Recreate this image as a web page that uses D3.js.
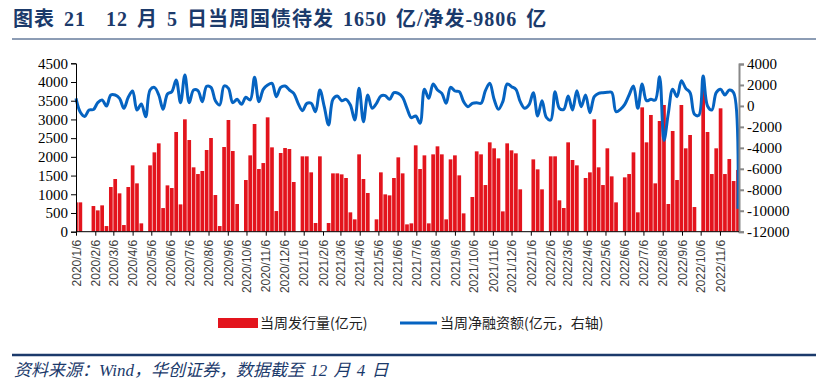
<!DOCTYPE html>
<html><head><meta charset="utf-8">
<script src="https://cdn.jsdelivr.net/npm/d3@7"></script>
<style>
html,body{margin:0;padding:0;background:#fff;}
svg{display:block;}
</style></head>
<body>
<svg id="c" width="816" height="390"></svg>
<script>
// ---- data ----
const startDate = "2020-01-06";
const weekCount = 153;
const issuance = [784,784,0,0,686,570,704,151,1194,1408,1025,178,1194,1773,1292,223,0,1773,2120,2361,632,1238,1167,2664,730,3003,2450,1720,1541,1622,2183,2504,980,151,2263,2985,2156,740,0,1381,2040,2878,1675,1835,3056,2254,552,2103,2236,2210,1328,0,2014,2014,1586,232,2014,0,232,1559,1559,1532,1435,517,330,2067,1408,1034,0,330,1586,998,971,1435,1987,1559,196,223,2308,1675,2040,223,2067,2281,2067,330,1933,2040,1506,490,0,927,2147,2067,1247,2388,2228,1960,543,2361,2174,2094,1132,0,0,1933,1666,1132,0,2014,2014,838,633,2388,1916,1773,0,1435,1586,3003,1720,1247,2228,1479,784,0,1452,1541,2120,517,3323,2388,3119,1292,2958,3386,740,2691,1381,3386,2228,2584,659,0,3900,2664,1541,2228,3297,1541,1942,1354,1650];
const netFinancing = [725,-600,-1000,-388,-350,311,566,-7,1043,1043,725,-229,820,1424,-388,184,-1024,1520,1774,1043,-325,1138,1361,2474,311,2951,311,1520,1456,407,1870,1774,502,89,1901,1679,311,629,152,820,566,2728,407,1583,1997,2156,884,1774,1901,1520,1202,248,-452,248,248,-547,1520,-70,-1819,629,947,500,629,89,-1342,1679,-1501,1043,-229,248,947,979,629,1265,1202,820,-229,-1120,-961,-1660,1583,725,2092,1520,1202,248,1774,1424,1361,407,-70,248,311,248,1456,2156,629,-325,407,2092,1838,1583,407,-229,89,1265,-961,502,-1088,-1342,1361,-229,-325,947,-388,1456,-70,1043,-643,884,1202,1265,1297,1297,-547,-325,152,1043,1901,-229,2092,502,629,566,2792,-3300,-706,1583,884,2410,1679,1265,-800,-900,2855,-7,-388,1265,1583,1043,1520,1265,-9806];
const tickLabels = ["2020/1/6","2020/2/6","2020/3/6","2020/4/6","2020/5/6","2020/6/6","2020/7/6","2020/8/6","2020/9/6","2020/10/6","2020/11/6","2020/12/6","2021/1/6","2021/2/6","2021/3/6","2021/4/6","2021/5/6","2021/6/6","2021/7/6","2021/8/6","2021/9/6","2021/10/6","2021/11/6","2021/12/6","2022/1/6","2022/2/6","2022/3/6","2022/4/6","2022/5/6","2022/6/6","2022/7/6","2022/8/6","2022/9/6","2022/10/6","2022/11/6"];
const leftTicks = [0,500,1000,1500,2000,2500,3000,3500,4000,4500];
const rightTicks = [-12000,-10000,-8000,-6000,-4000,-2000,0,2000,4000];
const seriesNames = ["当周发行量(亿元)","当周净融资额(亿元，右轴)"];

// ---- layout ----
const parse = d3.timeParse("%Y-%m-%d");
const parseTick = d3.timeParse("%Y/%m/%d");
const d0 = parse(startDate);
const dates = d3.range(weekCount).map(i => d3.timeDay.offset(d0, 7*i));
const L = 76, R = 739, B = 231.7;
const svg = d3.select("#c");
const navy = "#1b3a6b";

const x = d3.scaleTime().domain([dates[0], dates[dates.length-1]]).range([L, 738]);
const yL = d3.scaleLinear().domain([0,4500]).range([B, 63.3]);
const yR = d3.scaleLinear().domain([-12000,4000]).range([B, 64]);

// title
const title = svg.append("text").attr("y", 26).attr("fill", navy)
  .attr("font-weight", "bold").attr("font-size", 20).attr("word-spacing", 3).attr("letter-spacing", 1)
  .attr("font-family", "'Liberation Serif','Noto Sans CJK SC',serif");
title.append("tspan").attr("x", 13).text("图表");
title.append("tspan").attr("x", 64).text("21");
title.append("tspan").attr("x", 106).text("12 月 5 日当周国债待发 1650 亿/净发-9806 亿");
svg.append("line").attr("x1",12).attr("x2",816).attr("y1",39).attr("y2",39)
  .attr("stroke", navy).attr("stroke-width",1);

// clip
svg.append("clipPath").attr("id","pc").append("rect")
  .attr("x",L).attr("y",40).attr("width",R-L).attr("height",B-40);

const bw = 3.7;
svg.append("g").attr("clip-path","url(#pc)").selectAll("rect").data(issuance).join("rect")
  .attr("x",(d,i)=>x(dates[i]) - bw/2).attr("width",bw)
  .attr("y",d=>yL(d)).attr("height",d=>B - yL(d))
  .attr("fill","#e3141d");

// line
const line = d3.line().x((d,i)=>x(dates[i])).y(d=>yR(d)).curve(d3.curveCatmullRom.alpha(0.5));
svg.append("path").datum(netFinancing).attr("d",line)
  .attr("fill","none").attr("stroke","#0563c1").attr("stroke-width",3);

// axes
const gl = svg.append("g").attr("transform",`translate(${L},0)`)
  .call(d3.axisLeft(yL).tickValues(leftTicks).tickSize(5).tickPadding(3).tickFormat(d=>String(d)));
gl.select(".domain").attr("stroke","#000");
gl.selectAll(".tick line").attr("stroke","#000");
gl.selectAll("text").attr("font-family","'Liberation Serif',serif").attr("font-size",15).attr("fill","#000");

const gr = svg.append("g").attr("transform",`translate(${R},0)`)
  .call(d3.axisRight(yR).tickValues(rightTicks).tickSize(5).tickPadding(3).tickFormat(d=>String(d)));
gr.select(".domain").attr("stroke","#888").attr("stroke-width",2);
gr.selectAll(".tick line").attr("stroke","#888").attr("stroke-width",2);
gr.selectAll("text").attr("font-family","'Liberation Serif',serif").attr("font-size",15).attr("fill","#000");

const gx = svg.append("g").attr("transform",`translate(0,${B})`)
  .call(d3.axisBottom(x).tickValues(tickLabels.map(parseTick)).tickSize(4).tickFormat((d,i)=>tickLabels[i]));
gx.select(".domain").attr("stroke","#000").attr("d",`M${L},0H${R}`);
gx.selectAll(".tick line").attr("stroke","#000");
gx.selectAll("text").attr("font-family","'Liberation Sans',Arial,sans-serif").attr("font-size",12).attr("fill","#404040")
  .attr("transform","rotate(-90)").attr("text-anchor","end").attr("x",-8).attr("y",0).attr("dy","0.35em");

// legend
const lg = svg.append("g").attr("font-family","'Noto Sans CJK SC',sans-serif").attr("font-size",14).attr("fill","#222");
lg.append("rect").attr("x",218).attr("y",318).attr("width",40).attr("height",10).attr("fill","#e3141d");
lg.append("text").attr("x",260).attr("y",328).text(seriesNames[0]);
lg.append("line").attr("x1",400).attr("x2",437).attr("y1",323).attr("y2",323).attr("stroke","#0563c1").attr("stroke-width",3);
lg.append("text").attr("x",440).attr("y",328).text(seriesNames[1]);

// footer
svg.append("line").attr("x1",12).attr("x2",816).attr("y1",355).attr("y2",355)
  .attr("stroke", navy).attr("stroke-width",2.5);
svg.append("text").attr("x",14).attr("y",376).attr("fill",navy).attr("font-size",17).attr("word-spacing",2)
  .attr("font-style","italic").attr("font-family","'Liberation Serif','Noto Sans CJK SC',serif")
  .text("资料来源：Wind，华创证券，数据截至 12 月 4 日");
</script>
</body></html>
